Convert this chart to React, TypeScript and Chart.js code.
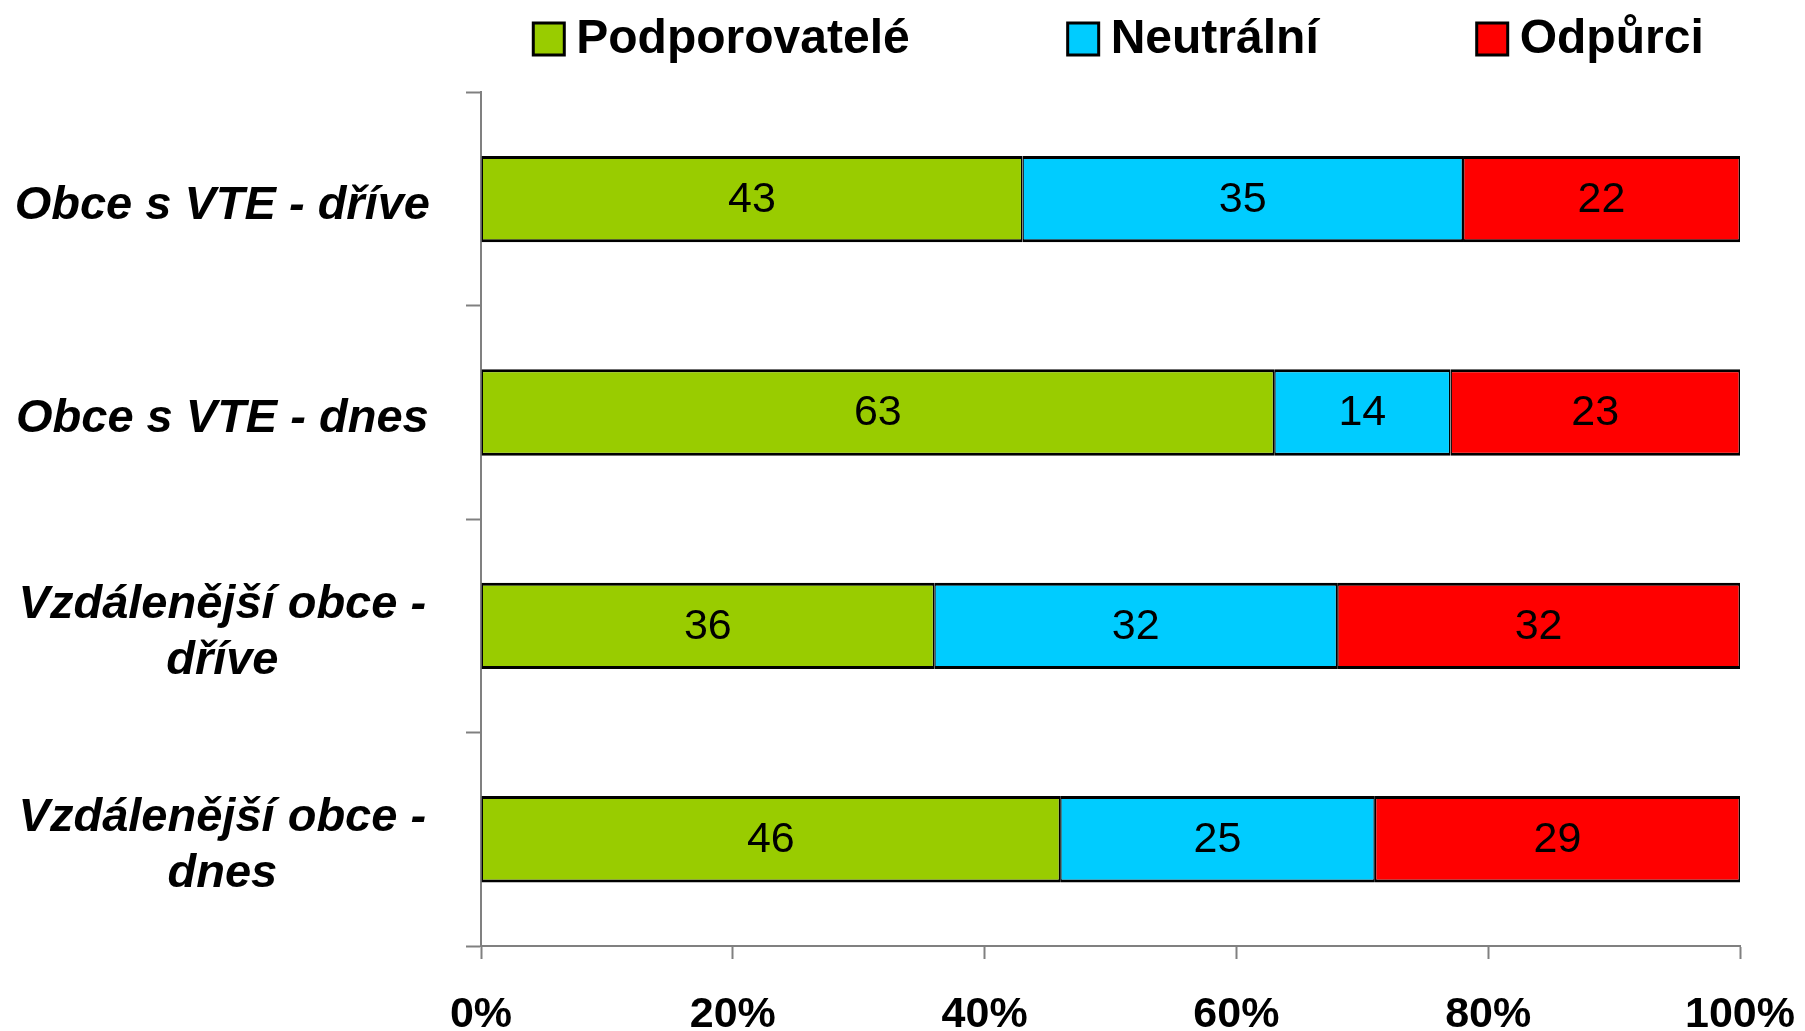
import React, { useEffect, useRef } from 'react';
import { Chart, registerables } from 'chart.js';

Chart.register(...registerables);

const categories: (string | string[])[] = [
  'Obce s VTE - dříve',
  'Obce s VTE - dnes',
  ['Vzdálenější obce -', 'dříve'],
  ['Vzdálenější obce -', 'dnes'],
];
const seriesNames = ['Podporovatelé', 'Neutrální', 'Odpůrci'];
const supporters = [43, 63, 36, 46];
const neutral = [35, 14, 32, 25];
const opponents = [22, 23, 32, 29];
const seriesColors = ['#99CC00', '#00CCFF', '#FF0000'];
const xTicks = [0, 20, 40, 60, 80, 100];

const FONT = '"Liberation Sans", Arial, Helvetica, sans-serif';

const dataLabelPlugin = {
  id: 'dataLabels',
  afterDatasetsDraw(chart: any) {
    const ctx = chart.ctx;
    ctx.save();
    ctx.font = `43px ${FONT}`;
    ctx.fillStyle = '#000';
    ctx.textAlign = 'center';
    ctx.textBaseline = 'middle';
    chart.data.datasets.forEach((ds: any, i: number) => {
      const meta = chart.getDatasetMeta(i);
      meta.data.forEach((bar: any, j: number) => {
        const p = bar.getCenterPoint();
        ctx.fillText(String(ds.data[j]), p.x, p.y + 1);
      });
    });
    ctx.restore();
  },
};

const legendPlugin = {
  id: 'customLegend',
  afterDraw(chart: any) {
    const ctx = chart.ctx;
    ctx.save();
    ctx.font = `bold 48px ${FONT}`;
    ctx.textBaseline = 'middle';
    ctx.textAlign = 'left';
    const boxW = 31;
    const boxH = 32;
    const gapText = 12;
    const gapItem = 158;
    const items = chart.data.datasets.map((d: any) => ({
      text: d.label,
      color: d.backgroundColor,
      w: ctx.measureText(d.label).width,
    }));
    const total =
      items.reduce((s: number, it: any) => s + boxW + gapText + it.w, 0) +
      gapItem * (items.length - 1);
    const center = (chart.chartArea.left + chart.chartArea.right) / 2 + 8;
    let x = center - total / 2;
    const cy = 39;
    items.forEach((it: any) => {
      ctx.fillStyle = it.color;
      ctx.fillRect(x, cy - boxH / 2, boxW, boxH);
      ctx.lineWidth = 3;
      ctx.strokeStyle = '#000';
      ctx.strokeRect(x, cy - boxH / 2, boxW, boxH);
      ctx.fillStyle = '#000';
      ctx.fillText(it.text, x + boxW + gapText, cy + 1);
      x += boxW + gapText + it.w + gapItem;
    });
    ctx.restore();
  },
};

export default function App() {
  const canvasRef = useRef<HTMLCanvasElement | null>(null);

  useEffect(() => {
    if (!canvasRef.current) return;
    Chart.defaults.font.family = FONT;
    const values = [supporters, neutral, opponents];
    const chart = new Chart(canvasRef.current, {
      type: 'bar',
      data: {
        labels: categories,
        datasets: seriesNames.map((name, i) => ({
          label: name,
          data: values[i],
          backgroundColor: seriesColors[i],
          borderColor: '#000',
          borderWidth: { top: 3, bottom: 3, left: 1.5, right: 1.5 },
          borderSkipped: false,
          categoryPercentage: 1,
          barPercentage: 0.405,
        })),
      },
      options: {
        indexAxis: 'y',
        responsive: false,
        animation: false,
        devicePixelRatio: 1,
        layout: { padding: { top: 92, left: 0, right: 0, bottom: 0 } },
        plugins: {
          legend: { display: false },
          tooltip: { enabled: false },
        },
        scales: {
          x: {
            stacked: true,
            min: 0,
            max: 100,
            afterBuildTicks: (scale: any) => {
              scale.ticks = xTicks.map((v) => ({ value: v }));
            },
            afterFit: (scale: any) => {
              scale.height = 85;
              scale.paddingRight = 65;
              scale.paddingLeft = 0;
            },
            ticks: {
              callback: (v: any) => `${v}%`,
              color: '#000',
              font: { size: 43, weight: 'bold', lineHeight: 1 },
              padding: 35,
              maxRotation: 0,
            },
            grid: {
              drawOnChartArea: false,
              tickLength: 13,
              tickColor: '#808080',
              tickWidth: 2,
            },
            border: { color: '#808080', width: 2 },
          },
          y: {
            stacked: true,
            afterFit: (scale: any) => {
              scale.width = 481;
            },
            ticks: {
              color: '#000',
              font: { size: 47, weight: 'bold', style: 'italic', lineHeight: 1.2 },
              crossAlign: 'center',
              padding: 36,
              labelOffset: 7,
            },
            grid: {
              offset: true,
              drawOnChartArea: false,
              tickLength: 15,
              tickColor: '#808080',
              tickWidth: 2,
            },
            border: { color: '#808080', width: 2 },
          },
        },
      },
      plugins: [dataLabelPlugin, legendPlugin],
    } as any);
    return () => chart.destroy();
  }, []);

  return (
    <div style={{ position: 'fixed', left: 0, top: 0, width: 1805, height: 1031, background: '#fff' }}>
      <canvas ref={canvasRef} width={1805} height={1031} style={{ display: 'block' }} />
    </div>
  );
}
